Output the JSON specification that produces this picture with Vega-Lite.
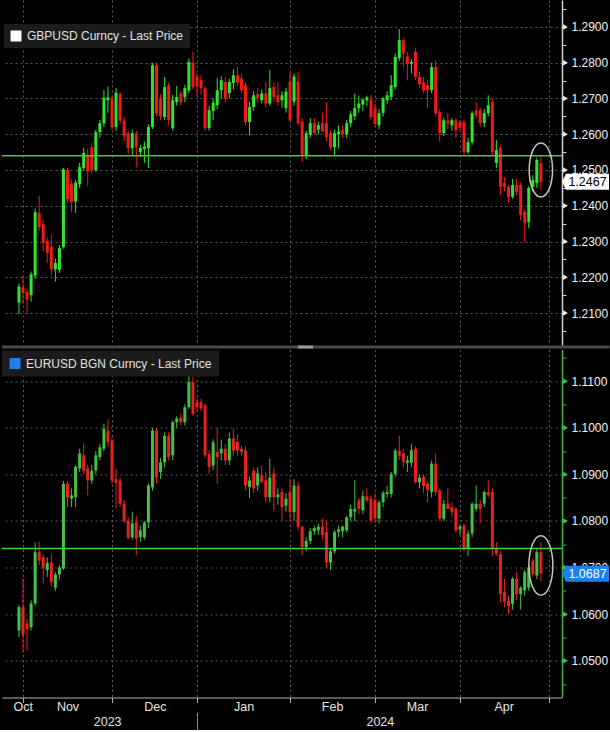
{
"$schema": "https://vega.github.io/schema/vega-lite/v6.json",
"background": "black",
"padding": 0,
"spacing": 0.5,
"datasets": {
"gbp": [
{"t":0,"o":1.2129,"h":1.2182,"l":1.2096,"c":1.2174},
{"t":1,"o":1.2172,"h":1.2205,"l":1.2126,"c":1.2156},
{"t":2,"o":1.2160,"h":1.2168,"l":1.2100,"c":1.2138},
{"t":3,"o":1.2150,"h":1.2216,"l":1.2132,"c":1.2208},
{"t":4,"o":1.2204,"h":1.2392,"l":1.2196,"c":1.2382},
{"t":5,"o":1.2380,"h":1.2428,"l":1.2330,"c":1.2340},
{"t":6,"o":1.2348,"h":1.2360,"l":1.2272,"c":1.2296},
{"t":7,"o":1.2302,"h":1.2312,"l":1.2240,"c":1.2268},
{"t":8,"o":1.2285,"h":1.2318,"l":1.2205,"c":1.2222},
{"t":9,"o":1.2222,"h":1.2252,"l":1.2188,"c":1.2240},
{"t":10,"o":1.2220,"h":1.2290,"l":1.2212,"c":1.2282},
{"t":11,"o":1.2284,"h":1.2506,"l":1.2280,"c":1.2502},
{"t":12,"o":1.2500,"h":1.2506,"l":1.2408,"c":1.2418},
{"t":13,"o":1.2462,"h":1.2474,"l":1.2382,"c":1.2410},
{"t":14,"o":1.2412,"h":1.2472,"l":1.2380,"c":1.2465},
{"t":15,"o":1.2460,"h":1.2520,"l":1.2450,"c":1.2508},
{"t":16,"o":1.2505,"h":1.2562,"l":1.2498,"c":1.2548},
{"t":17,"o":1.2542,"h":1.2560,"l":1.2455,"c":1.2496},
{"t":18,"o":1.2564,"h":1.2575,"l":1.2490,"c":1.2500},
{"t":19,"o":1.2500,"h":1.2612,"l":1.2495,"c":1.2606},
{"t":20,"o":1.2606,"h":1.2640,"l":1.2590,"c":1.2631},
{"t":21,"o":1.2630,"h":1.2724,"l":1.2620,"c":1.2702},
{"t":22,"o":1.2695,"h":1.2733,"l":1.2660,"c":1.2703},
{"t":23,"o":1.2700,"h":1.2708,"l":1.2612,"c":1.2620},
{"t":24,"o":1.2620,"h":1.2730,"l":1.2610,"c":1.2716},
{"t":25,"o":1.2712,"h":1.2718,"l":1.2628,"c":1.2638},
{"t":26,"o":1.2638,"h":1.2648,"l":1.2580,"c":1.2594},
{"t":27,"o":1.2603,"h":1.2610,"l":1.2545,"c":1.2561},
{"t":28,"o":1.2561,"h":1.2612,"l":1.2540,"c":1.2603},
{"t":29,"o":1.2603,"h":1.2610,"l":1.2508,"c":1.2563},
{"t":30,"o":1.2550,"h":1.2570,"l":1.2536,"c":1.2562},
{"t":31,"o":1.2558,"h":1.2580,"l":1.2520,"c":1.2566},
{"t":32,"o":1.2561,"h":1.2628,"l":1.2505,"c":1.2620},
{"t":33,"o":1.2620,"h":1.2800,"l":1.2615,"c":1.2793},
{"t":34,"o":1.2793,"h":1.2800,"l":1.2650,"c":1.2659},
{"t":35,"o":1.2700,"h":1.2712,"l":1.2640,"c":1.2650},
{"t":36,"o":1.2648,"h":1.2760,"l":1.2640,"c":1.2732},
{"t":37,"o":1.2737,"h":1.2745,"l":1.2625,"c":1.2640},
{"t":38,"o":1.2617,"h":1.2710,"l":1.2610,"c":1.2695},
{"t":39,"o":1.2690,"h":1.2735,"l":1.2680,"c":1.2704},
{"t":40,"o":1.2715,"h":1.2722,"l":1.2680,"c":1.2690},
{"t":41,"o":1.2704,"h":1.2738,"l":1.2690,"c":1.2729},
{"t":42,"o":1.2723,"h":1.2812,"l":1.2715,"c":1.2802},
{"t":43,"o":1.2800,"h":1.2830,"l":1.2725,"c":1.2732},
{"t":44,"o":1.2760,"h":1.2770,"l":1.2705,"c":1.2735},
{"t":45,"o":1.2752,"h":1.2765,"l":1.2710,"c":1.2729},
{"t":46,"o":1.2729,"h":1.2735,"l":1.2610,"c":1.2617},
{"t":47,"o":1.2617,"h":1.2680,"l":1.2610,"c":1.2667},
{"t":48,"o":1.2665,"h":1.2700,"l":1.2640,"c":1.2689},
{"t":49,"o":1.2681,"h":1.2758,"l":1.2670,"c":1.2723},
{"t":50,"o":1.2723,"h":1.2762,"l":1.2700,"c":1.2751},
{"t":51,"o":1.2746,"h":1.2760,"l":1.2690,"c":1.2700},
{"t":52,"o":1.2715,"h":1.2755,"l":1.2700,"c":1.2746},
{"t":53,"o":1.2743,"h":1.2782,"l":1.2725,"c":1.2765},
{"t":54,"o":1.2765,"h":1.2788,"l":1.2735,"c":1.2745},
{"t":55,"o":1.2756,"h":1.2770,"l":1.2715,"c":1.2723},
{"t":56,"o":1.2737,"h":1.2745,"l":1.2625,"c":1.2634},
{"t":57,"o":1.2634,"h":1.2690,"l":1.2597,"c":1.2676},
{"t":58,"o":1.2676,"h":1.2720,"l":1.2665,"c":1.2709},
{"t":59,"o":1.2712,"h":1.2730,"l":1.2690,"c":1.2702},
{"t":60,"o":1.2695,"h":1.2725,"l":1.2686,"c":1.2714},
{"t":61,"o":1.2714,"h":1.2746,"l":1.2675,"c":1.2686},
{"t":62,"o":1.2686,"h":1.2780,"l":1.2680,"c":1.2729},
{"t":63,"o":1.2732,"h":1.2745,"l":1.2690,"c":1.2704},
{"t":64,"o":1.2709,"h":1.2745,"l":1.2680,"c":1.2690},
{"t":65,"o":1.2695,"h":1.2720,"l":1.2675,"c":1.2709},
{"t":66,"o":1.2673,"h":1.2730,"l":1.2660,"c":1.2719},
{"t":67,"o":1.2747,"h":1.2775,"l":1.2635,"c":1.2639},
{"t":68,"o":1.2691,"h":1.2770,"l":1.2680,"c":1.2761},
{"t":69,"o":1.2747,"h":1.2775,"l":1.2625,"c":1.2631},
{"t":70,"o":1.2635,"h":1.2645,"l":1.2523,"c":1.2542},
{"t":71,"o":1.2542,"h":1.2610,"l":1.2530,"c":1.2603},
{"t":72,"o":1.2598,"h":1.2645,"l":1.2590,"c":1.2631},
{"t":73,"o":1.2631,"h":1.2645,"l":1.2600,"c":1.2603},
{"t":74,"o":1.2613,"h":1.2635,"l":1.2600,"c":1.2625},
{"t":75,"o":1.2631,"h":1.2660,"l":1.2605,"c":1.2609},
{"t":76,"o":1.2631,"h":1.2690,"l":1.2580,"c":1.2592},
{"t":77,"o":1.2603,"h":1.2610,"l":1.2555,"c":1.2564},
{"t":78,"o":1.2564,"h":1.2612,"l":1.2542,"c":1.2603},
{"t":79,"o":1.2600,"h":1.2625,"l":1.2560,"c":1.2608},
{"t":80,"o":1.2612,"h":1.2625,"l":1.2590,"c":1.2600},
{"t":81,"o":1.2600,"h":1.2640,"l":1.2590,"c":1.2631},
{"t":82,"o":1.2631,"h":1.2665,"l":1.2620,"c":1.2656},
{"t":83,"o":1.2650,"h":1.2714,"l":1.2640,"c":1.2673},
{"t":84,"o":1.2673,"h":1.2708,"l":1.2660,"c":1.2686},
{"t":85,"o":1.2683,"h":1.2700,"l":1.2665,"c":1.2697},
{"t":86,"o":1.2695,"h":1.2708,"l":1.2680,"c":1.2703},
{"t":87,"o":1.2697,"h":1.2710,"l":1.2640,"c":1.2648},
{"t":88,"o":1.2673,"h":1.2685,"l":1.2620,"c":1.2628},
{"t":89,"o":1.2625,"h":1.2670,"l":1.2615,"c":1.2659},
{"t":90,"o":1.2659,"h":1.2705,"l":1.2650,"c":1.2700},
{"t":91,"o":1.2695,"h":1.2720,"l":1.2685,"c":1.2709},
{"t":92,"o":1.2704,"h":1.2765,"l":1.2695,"c":1.2737},
{"t":93,"o":1.2732,"h":1.2825,"l":1.2725,"c":1.2816},
{"t":94,"o":1.2813,"h":1.2894,"l":1.2805,"c":1.2863},
{"t":95,"o":1.2863,"h":1.2870,"l":1.2787,"c":1.2826},
{"t":96,"o":1.2818,"h":1.2830,"l":1.2751,"c":1.2796},
{"t":97,"o":1.2796,"h":1.2810,"l":1.2770,"c":1.2802},
{"t":98,"o":1.2830,"h":1.2840,"l":1.2752,"c":1.2760},
{"t":99,"o":1.2760,"h":1.2775,"l":1.2730,"c":1.2740},
{"t":100,"o":1.2745,"h":1.2760,"l":1.2715,"c":1.2723},
{"t":101,"o":1.2737,"h":1.2750,"l":1.2673,"c":1.2723},
{"t":102,"o":1.2723,"h":1.2800,"l":1.2715,"c":1.2788},
{"t":103,"o":1.2788,"h":1.2807,"l":1.2650,"c":1.2659},
{"t":104,"o":1.2662,"h":1.2670,"l":1.2578,"c":1.2603},
{"t":105,"o":1.2603,"h":1.2645,"l":1.2595,"c":1.2639},
{"t":106,"o":1.2639,"h":1.2660,"l":1.2615,"c":1.2630},
{"t":107,"o":1.2625,"h":1.2645,"l":1.2610,"c":1.2639},
{"t":108,"o":1.2639,"h":1.2645,"l":1.2590,"c":1.2611},
{"t":109,"o":1.2634,"h":1.2640,"l":1.2610,"c":1.2618},
{"t":110,"o":1.2634,"h":1.2640,"l":1.2540,"c":1.2550},
{"t":111,"o":1.2550,"h":1.2590,"l":1.2545,"c":1.2578},
{"t":112,"o":1.2578,"h":1.2665,"l":1.2570,"c":1.2659},
{"t":113,"o":1.2667,"h":1.2690,"l":1.2645,"c":1.2653},
{"t":114,"o":1.2667,"h":1.2675,"l":1.2620,"c":1.2631},
{"t":115,"o":1.2631,"h":1.2670,"l":1.2620,"c":1.2659},
{"t":116,"o":1.2659,"h":1.2709,"l":1.2650,"c":1.2681},
{"t":117,"o":1.2690,"h":1.2700,"l":1.2540,"c":1.2550},
{"t":118,"o":1.2520,"h":1.2584,"l":1.2505,"c":1.2556},
{"t":119,"o":1.2561,"h":1.2570,"l":1.2430,"c":1.2453},
{"t":120,"o":1.2464,"h":1.2480,"l":1.2440,"c":1.2453},
{"t":121,"o":1.2453,"h":1.2458,"l":1.2408,"c":1.2425},
{"t":122,"o":1.2425,"h":1.2475,"l":1.2420,"c":1.2458},
{"t":123,"o":1.2458,"h":1.2475,"l":1.2430,"c":1.2439},
{"t":124,"o":1.2458,"h":1.2465,"l":1.2360,"c":1.2374},
{"t":125,"o":1.2383,"h":1.2390,"l":1.2299,"c":1.2352},
{"t":126,"o":1.2355,"h":1.2455,"l":1.2337,"c":1.2450},
{"t":127,"o":1.2453,"h":1.2485,"l":1.2440,"c":1.2472},
{"t":128,"o":1.2464,"h":1.2535,"l":1.2450,"c":1.2528},
{"t":129,"o":1.2519,"h":1.2542,"l":1.2445,"c":1.2467}
],
"eur": [
{"t":0,"o":1.0565,"h":1.0620,"l":1.0551,"c":1.0615},
{"t":1,"o":1.0615,"h":1.0677,"l":1.0518,"c":1.0556},
{"t":2,"o":1.0580,"h":1.0590,"l":1.0522,"c":1.0568},
{"t":3,"o":1.0572,"h":1.0630,"l":1.0565,"c":1.0623},
{"t":4,"o":1.0623,"h":1.0754,"l":1.0618,"c":1.0733},
{"t":5,"o":1.0733,"h":1.0756,"l":1.0705,"c":1.0715},
{"t":6,"o":1.0722,"h":1.0728,"l":1.0666,"c":1.0700},
{"t":7,"o":1.0695,"h":1.0722,"l":1.0680,"c":1.0710},
{"t":8,"o":1.0711,"h":1.0730,"l":1.0660,"c":1.0669},
{"t":9,"o":1.0657,"h":1.0690,"l":1.0650,"c":1.0685},
{"t":10,"o":1.0685,"h":1.0705,"l":1.0675,"c":1.0700},
{"t":11,"o":1.0698,"h":1.0886,"l":1.0695,"c":1.0880},
{"t":12,"o":1.0880,"h":1.0886,"l":1.0830,"c":1.0850},
{"t":13,"o":1.0848,"h":1.0870,"l":1.0830,"c":1.0855},
{"t":14,"o":1.0851,"h":1.0920,"l":1.0830,"c":1.0916},
{"t":15,"o":1.0913,"h":1.0955,"l":1.0905,"c":1.0945},
{"t":16,"o":1.0941,"h":1.0966,"l":1.0900,"c":1.0908},
{"t":17,"o":1.0913,"h":1.0920,"l":1.0855,"c":1.0887},
{"t":18,"o":1.0887,"h":1.0920,"l":1.0880,"c":1.0908},
{"t":19,"o":1.0908,"h":1.0950,"l":1.0900,"c":1.0941},
{"t":20,"o":1.0937,"h":1.0965,"l":1.0930,"c":1.0958},
{"t":21,"o":1.0955,"h":1.1009,"l":1.0950,"c":1.0998},
{"t":22,"o":1.0994,"h":1.1018,"l":1.0960,"c":1.0969},
{"t":23,"o":1.0973,"h":1.0980,"l":1.0880,"c":1.0887},
{"t":24,"o":1.0890,"h":1.0913,"l":1.0828,"c":1.0882},
{"t":25,"o":1.0887,"h":1.0893,"l":1.0830,"c":1.0837},
{"t":26,"o":1.0837,"h":1.0845,"l":1.0795,"c":1.0800},
{"t":27,"o":1.0800,"h":1.0808,"l":1.0760,"c":1.0764},
{"t":28,"o":1.0765,"h":1.0820,"l":1.0760,"c":1.0795},
{"t":29,"o":1.0797,"h":1.0810,"l":1.0726,"c":1.0762},
{"t":30,"o":1.0765,"h":1.0790,"l":1.0755,"c":1.0780},
{"t":31,"o":1.0765,"h":1.0800,"l":1.0760,"c":1.0797},
{"t":32,"o":1.0797,"h":1.0880,"l":1.0785,"c":1.0876},
{"t":33,"o":1.0872,"h":1.1000,"l":1.0865,"c":1.0994},
{"t":34,"o":1.0994,"h":1.1000,"l":1.0880,"c":1.0894},
{"t":35,"o":1.0905,"h":1.0935,"l":1.0890,"c":1.0926},
{"t":36,"o":1.0926,"h":1.0990,"l":1.0915,"c":1.0983},
{"t":37,"o":1.0983,"h":1.0990,"l":1.0930,"c":1.0937},
{"t":38,"o":1.0941,"h":1.1015,"l":1.0930,"c":1.1012},
{"t":39,"o":1.1012,"h":1.1025,"l":1.1000,"c":1.1020},
{"t":40,"o":1.1022,"h":1.1030,"l":1.1005,"c":1.1012},
{"t":41,"o":1.1012,"h":1.1050,"l":1.1005,"c":1.1044},
{"t":42,"o":1.1044,"h":1.1116,"l":1.1040,"c":1.1098},
{"t":43,"o":1.1098,"h":1.1110,"l":1.1025,"c":1.1030},
{"t":44,"o":1.1055,"h":1.1065,"l":1.1035,"c":1.1044},
{"t":45,"o":1.1055,"h":1.1062,"l":1.1035,"c":1.1041},
{"t":46,"o":1.1048,"h":1.1052,"l":1.0935,"c":1.0941},
{"t":47,"o":1.0944,"h":1.0952,"l":1.0900,"c":1.0916},
{"t":48,"o":1.0919,"h":1.0975,"l":1.0910,"c":1.0969},
{"t":49,"o":1.0948,"h":1.1000,"l":1.0880,"c":1.0937},
{"t":50,"o":1.0945,"h":1.0975,"l":1.0930,"c":1.0955},
{"t":51,"o":1.0955,"h":1.0965,"l":1.0920,"c":1.0930},
{"t":52,"o":1.0930,"h":1.0990,"l":1.0920,"c":1.0977},
{"t":53,"o":1.0977,"h":1.0998,"l":1.0940,"c":1.0951},
{"t":54,"o":1.0970,"h":1.0985,"l":1.0940,"c":1.0951},
{"t":55,"o":1.0955,"h":1.0962,"l":1.0940,"c":1.0948},
{"t":56,"o":1.0951,"h":1.0960,"l":1.0865,"c":1.0876},
{"t":57,"o":1.0873,"h":1.0895,"l":1.0849,"c":1.0887},
{"t":58,"o":1.0908,"h":1.0915,"l":1.0860,"c":1.0870},
{"t":59,"o":1.0876,"h":1.0915,"l":1.0865,"c":1.0902},
{"t":60,"o":1.0898,"h":1.0920,"l":1.0880,"c":1.0884},
{"t":61,"o":1.0887,"h":1.0905,"l":1.0840,"c":1.0851},
{"t":62,"o":1.0851,"h":1.0934,"l":1.0840,"c":1.0893},
{"t":63,"o":1.0902,"h":1.0915,"l":1.0820,"c":1.0851},
{"t":64,"o":1.0851,"h":1.0870,"l":1.0835,"c":1.0857},
{"t":65,"o":1.0862,"h":1.0870,"l":1.0800,"c":1.0830},
{"t":66,"o":1.0833,"h":1.0860,"l":1.0820,"c":1.0848},
{"t":67,"o":1.0862,"h":1.0890,"l":1.0800,"c":1.0819},
{"t":68,"o":1.0819,"h":1.0890,"l":1.0800,"c":1.0876},
{"t":69,"o":1.0876,"h":1.0885,"l":1.0780,"c":1.0787},
{"t":70,"o":1.0787,"h":1.0790,"l":1.0726,"c":1.0744},
{"t":71,"o":1.0744,"h":1.0765,"l":1.0735,"c":1.0757},
{"t":72,"o":1.0757,"h":1.0785,"l":1.0750,"c":1.0778},
{"t":73,"o":1.0778,"h":1.0790,"l":1.0770,"c":1.0785},
{"t":74,"o":1.0780,"h":1.0795,"l":1.0770,"c":1.0788},
{"t":75,"o":1.0788,"h":1.0805,"l":1.0760,"c":1.0770},
{"t":76,"o":1.0776,"h":1.0800,"l":1.0700,"c":1.0711},
{"t":77,"o":1.0711,"h":1.0740,"l":1.0695,"c":1.0735},
{"t":78,"o":1.0735,"h":1.0780,"l":1.0730,"c":1.0776},
{"t":79,"o":1.0776,"h":1.0790,"l":1.0765,"c":1.0782},
{"t":80,"o":1.0778,"h":1.0790,"l":1.0765,"c":1.0788},
{"t":81,"o":1.0780,"h":1.0810,"l":1.0775,"c":1.0808},
{"t":82,"o":1.0808,"h":1.0835,"l":1.0800,"c":1.0826},
{"t":83,"o":1.0820,"h":1.0888,"l":1.0800,"c":1.0826},
{"t":84,"o":1.0844,"h":1.0850,"l":1.0815,"c":1.0826},
{"t":85,"o":1.0823,"h":1.0865,"l":1.0815,"c":1.0853},
{"t":86,"o":1.0853,"h":1.0870,"l":1.0840,"c":1.0844},
{"t":87,"o":1.0848,"h":1.0855,"l":1.0795,"c":1.0801},
{"t":88,"o":1.0845,"h":1.0860,"l":1.0795,"c":1.0805},
{"t":89,"o":1.0805,"h":1.0845,"l":1.0795,"c":1.0840},
{"t":90,"o":1.0840,"h":1.0865,"l":1.0830,"c":1.0860},
{"t":91,"o":1.0858,"h":1.0875,"l":1.0850,"c":1.0862},
{"t":92,"o":1.0858,"h":1.0905,"l":1.0850,"c":1.0901},
{"t":93,"o":1.0901,"h":1.0955,"l":1.0895,"c":1.0951},
{"t":94,"o":1.0951,"h":1.0983,"l":1.0930,"c":1.0940},
{"t":95,"o":1.0945,"h":1.0955,"l":1.0915,"c":1.0927},
{"t":96,"o":1.0925,"h":1.0940,"l":1.0905,"c":1.0930},
{"t":97,"o":1.0925,"h":1.0965,"l":1.0915,"c":1.0952},
{"t":98,"o":1.0955,"h":1.0960,"l":1.0880,"c":1.0883},
{"t":99,"o":1.0883,"h":1.0900,"l":1.0870,"c":1.0893},
{"t":100,"o":1.0895,"h":1.0900,"l":1.0860,"c":1.0875},
{"t":101,"o":1.0880,"h":1.0885,"l":1.0840,"c":1.0866},
{"t":102,"o":1.0862,"h":1.0930,"l":1.0850,"c":1.0923},
{"t":103,"o":1.0923,"h":1.0944,"l":1.0855,"c":1.0862},
{"t":104,"o":1.0866,"h":1.0870,"l":1.0800,"c":1.0805},
{"t":105,"o":1.0805,"h":1.0845,"l":1.0800,"c":1.0837},
{"t":106,"o":1.0837,"h":1.0870,"l":1.0825,"c":1.0826},
{"t":107,"o":1.0830,"h":1.0840,"l":1.0810,"c":1.0819},
{"t":108,"o":1.0826,"h":1.0830,"l":1.0775,"c":1.0780},
{"t":109,"o":1.0782,"h":1.0792,"l":1.0770,"c":1.0788},
{"t":110,"o":1.0790,"h":1.0795,"l":1.0735,"c":1.0740},
{"t":111,"o":1.0740,"h":1.0780,"l":1.0725,"c":1.0773},
{"t":112,"o":1.0773,"h":1.0840,"l":1.0765,"c":1.0837},
{"t":113,"o":1.0826,"h":1.0876,"l":1.0820,"c":1.0837},
{"t":114,"o":1.0837,"h":1.0845,"l":1.0795,"c":1.0826},
{"t":115,"o":1.0837,"h":1.0865,"l":1.0830,"c":1.0862},
{"t":116,"o":1.0862,"h":1.0887,"l":1.0850,"c":1.0855},
{"t":117,"o":1.0862,"h":1.0870,"l":1.0725,"c":1.0740},
{"t":118,"o":1.0740,"h":1.0755,"l":1.0725,"c":1.0730},
{"t":119,"o":1.0729,"h":1.0735,"l":1.0625,"c":1.0643},
{"t":120,"o":1.0647,"h":1.0675,"l":1.0615,"c":1.0627},
{"t":121,"o":1.0629,"h":1.0640,"l":1.0600,"c":1.0618},
{"t":122,"o":1.0622,"h":1.0680,"l":1.0610,"c":1.0676},
{"t":123,"o":1.0676,"h":1.0690,"l":1.0630,"c":1.0643},
{"t":124,"o":1.0643,"h":1.0660,"l":1.0610,"c":1.0657},
{"t":125,"o":1.0651,"h":1.0695,"l":1.0640,"c":1.0690},
{"t":126,"o":1.0657,"h":1.0705,"l":1.0650,"c":1.0700},
{"t":127,"o":1.0715,"h":1.0720,"l":1.0680,"c":1.0686},
{"t":128,"o":1.0683,"h":1.0740,"l":1.0675,"c":1.0733},
{"t":129,"o":1.0733,"h":1.0754,"l":1.0670,"c":1.0687}
]
},
"vconcat": [
{
"width": 560,
"height": 345,
"resolve": {"axis": {"x": "independent", "y": "independent"}},
"layer": [
{
"data": {"name": "gbp"},
"mark": {"type": "rule", "strokeWidth": 1},
"encoding": {
"x": {"field": "t", "type": "quantitative", "scale": {"domain": [-4.19, 134.22], "nice": false, "zero": false, "padding": 0},
"axis": {"orient": "bottom", "values": [1, 23, 44, 67, 88, 109, 131], "grid": true, "gridColor": "#5c5c5c", "gridDash": [2, 3], "labels": false, "ticks": false, "domain": false, "title": null}},
"y": {"field": "l", "type": "quantitative", "scale": {"domain": [1.20106, 1.29754], "nice": false, "zero": false, "padding": 0},
"axis": {"orient": "right", "title": null,
"values": [1.205, 1.21, 1.215, 1.22, 1.225, 1.23, 1.235, 1.24, 1.245, 1.25, 1.255, 1.26, 1.265, 1.27, 1.275, 1.28, 1.285, 1.29, 1.295],
"labelExpr": "round(datum.value*200) % 2 == 0 ? format(datum.value, '.4f') : ''",
"grid": true, "gridColor": "#5c5c5c", "gridDash": [2, 3],
"gridOpacity": {"condition": {"test": "round(datum.value*200) % 2 == 0", "value": 1}, "value": 0},
"domainColor": "#d0d0d0", "domainWidth": 1.5, "tickColor": "#d0d0d0", "tickSize": 4, "tickWidth": 1,
"labelColor": "#f2f2f2", "labelFontSize": 12, "labelPadding": 5, "labelOverlap": false, "labelBaseline": "middle"}},
"y2": {"field": "h"},
"color": {"condition": {"test": "datum.c >= datum.o", "value": "#2ee62e"}, "value": "#f01818"}
}
},
{
"data": {"name": "gbp"},
"mark": {"type": "bar", "size": 3, "opacity": 1},
"encoding": {
"x": {"field": "t", "type": "quantitative", "scale": {"domain": [-4.19, 134.22], "nice": false, "zero": false, "padding": 0}, "axis": null},
"y": {"field": "o", "type": "quantitative", "scale": {"domain": [1.20106, 1.29754], "nice": false, "zero": false, "padding": 0}, "axis": null},
"y2": {"field": "c"},
"color": {"condition": {"test": "datum.c >= datum.o", "value": "#2ee62e"}, "value": "#f01818"}
}
},
{
"data": {"values": [{"level": 1.2540}]},
"mark": {"type": "rule", "color": "#3bd03b", "strokeWidth": 1.5},
"encoding": {
"y": {"field": "level", "type": "quantitative", "scale": {"domain": [1.20106, 1.29754], "nice": false, "zero": false, "padding": 0}, "axis": null}
}
},
{
"data": {"values": [{"v": 1.2005}]},
"mark": {"type": "rule", "color": "#4a4a4a", "strokeWidth": 3, "clip": false},
"encoding": {
"x": {"datum": -4.19, "type": "quantitative", "scale": {"domain": [-4.19, 134.22], "nice": false, "zero": false, "padding": 0}, "axis": null},
"x2": {"datum": 146},
"y": {"field": "v", "type": "quantitative", "scale": {"domain": [1.20106, 1.29754], "nice": false, "zero": false, "padding": 0}, "axis": null}
}
},
{
"data": {"values": [{"v": 1.2005}]},
"mark": {"type": "rule", "color": "#9a9a9a", "strokeWidth": 3, "clip": false},
"encoding": {
"x": {"datum": 69, "type": "quantitative", "scale": {"domain": [-4.19, 134.22], "nice": false, "zero": false, "padding": 0}, "axis": null},
"x2": {"datum": 72.7},
"y": {"field": "v", "type": "quantitative", "scale": {"domain": [1.20106, 1.29754], "nice": false, "zero": false, "padding": 0}, "axis": null}
}
},
{
"data": {"values": [{"v": 1.21}, {"v": 1.22}, {"v": 1.23}, {"v": 1.24}, {"v": 1.25}, {"v": 1.26}, {"v": 1.27}, {"v": 1.28}, {"v": 1.29}]},
"mark": {"type": "point", "shape": "triangle-right", "size": 30, "filled": true, "color": "#f0f0f0", "opacity": 1, "xOffset": 3.5},
"encoding": {
"x": {"datum": 134.22, "type": "quantitative", "scale": {"domain": [-4.19, 134.22], "nice": false, "zero": false, "padding": 0}, "axis": null},
"y": {"field": "v", "type": "quantitative", "scale": {"domain": [1.20106, 1.29754], "nice": false, "zero": false, "padding": 0}, "axis": null}
}
},
{
"data": {"values": [{"t": 129, "v": 1.2500}]},
"mark": {"type": "point", "shape": "M -0.433 0 A 0.433 1 0 1 1 0.433 0 A 0.433 1 0 1 1 -0.433 0 Z", "size": 2916, "filled": false, "stroke": "#c9c4ad", "strokeWidth": 1.5, "opacity": 1},
"encoding": {
"x": {"field": "t", "type": "quantitative", "scale": {"domain": [-4.19, 134.22], "nice": false, "zero": false, "padding": 0}, "axis": null},
"y": {"field": "v", "type": "quantitative", "scale": {"domain": [1.20106, 1.29754], "nice": false, "zero": false, "padding": 0}, "axis": null}
}
},
{
"data": {"values": [{"v": 1.2467, "label": "1.2467", "series": "GBPUSD Curncy - Last Price"}]},
"mark": {"type": "square", "size": 60, "opacity": 1, "xOffset": 20},
"encoding": {
"x": {"datum": 134.22, "type": "quantitative", "scale": {"domain": [-4.19, 134.22], "nice": false, "zero": false, "padding": 0}, "axis": null},
"y": {"field": "v", "type": "quantitative", "scale": {"domain": [1.20106, 1.29754], "nice": false, "zero": false, "padding": 0}, "axis": null},
"fill": {"field": "series", "type": "nominal", "scale": {"domain": ["GBPUSD Curncy - Last Price"], "range": ["#ffffff"]},
"legend": {"orient": "none", "legendX": 2, "legendY": 24, "title": null, "symbolType": "square", "symbolSize": 121, "symbolStrokeWidth": 0, "symbolOpacity": 1,
"labelFontSize": 12, "labelColor": "#e0e0e0", "labelLimit": 300, "labelOffset": 5, "fillColor": "#1b1b1b", "padding": 6}}
}
},
{
"data": {"values": [{"v": 1.2467, "label": "1.2467"}]},
"mark": {"type": "point", "shape": "M 0 0 L 0.08 -0.16 L 0.94 -0.16 L 0.94 0.16 L 0.08 0.16 Z", "size": 10000, "filled": true, "fill": "#ffffff", "strokeWidth": 0, "opacity": 1},
"encoding": {
"x": {"datum": 134.22, "type": "quantitative", "scale": {"domain": [-4.19, 134.22], "nice": false, "zero": false, "padding": 0}, "axis": null},
"y": {"field": "v", "type": "quantitative", "scale": {"domain": [1.20106, 1.29754], "nice": false, "zero": false, "padding": 0}, "axis": null}
}
},
{
"data": {"values": [{"v": 1.2467, "label": "1.2467"}]},
"mark": {"type": "text", "dx": 25.5, "align": "center", "baseline": "middle", "fontSize": 12.5, "color": "#000000"},
"encoding": {
"x": {"datum": 134.22, "type": "quantitative", "scale": {"domain": [-4.19, 134.22], "nice": false, "zero": false, "padding": 0}, "axis": null},
"y": {"field": "v", "type": "quantitative", "scale": {"domain": [1.20106, 1.29754], "nice": false, "zero": false, "padding": 0}, "axis": null},
"text": {"field": "label"}
}
}
]
},
{
"width": 560,
"height": 348,
"resolve": {"axis": {"x": "independent", "y": "independent"}},
"layer": [
{
"data": {"name": "eur"},
"mark": {"type": "rule", "strokeWidth": 1},
"encoding": {
"x": {"field": "t", "type": "quantitative", "scale": {"domain": [-4.19, 134.22], "nice": false, "zero": false, "padding": 0},
"axis": {"orient": "bottom", "values": [1, 23, 44, 67, 88, 109, 131], "grid": true, "gridColor": "#5c5c5c", "gridDash": [2, 3], "labels": false, "ticks": true, "tickSize": 5, "tickColor": "#b0b0b0", "domain": true, "domainColor": "#b0b0b0", "title": null}},
"y": {"field": "l", "type": "quantitative", "scale": {"domain": [1.04212, 1.1168], "nice": false, "zero": false, "padding": 0},
"axis": {"orient": "right", "title": null,
"values": [1.045, 1.05, 1.055, 1.06, 1.065, 1.07, 1.075, 1.08, 1.085, 1.09, 1.095, 1.1, 1.105, 1.11, 1.115],
"labelExpr": "round(datum.value*200) % 2 == 0 ? format(datum.value, '.4f') : ''",
"grid": true, "gridColor": "#5c5c5c", "gridDash": [2, 3],
"gridOpacity": {"condition": {"test": "round(datum.value*200) % 2 == 0", "value": 1}, "value": 0},
"domainColor": "#3cb43c", "domainWidth": 1.5, "tickColor": "#3cb43c", "tickSize": 4, "tickWidth": 1,
"labelColor": "#f2f2f2", "labelFontSize": 12, "labelPadding": 5, "labelOverlap": false, "labelBaseline": "middle"}},
"y2": {"field": "h"},
"color": {"condition": {"test": "datum.c >= datum.o", "value": "#44c044"}, "value": "#e82020"}
}
},
{
"data": {"name": "eur"},
"mark": {"type": "bar", "size": 3, "opacity": 1},
"encoding": {
"x": {"field": "t", "type": "quantitative", "scale": {"domain": [-4.19, 134.22], "nice": false, "zero": false, "padding": 0},
"axis": {"orient": "bottom", "values": [0.95, 12, 33.6, 55.5, 77.4, 98.4, 119.8],
"labelExpr": "datum.value < 5 ? 'Oct' : datum.value < 20 ? 'Nov' : datum.value < 40 ? 'Dec' : datum.value < 60 ? 'Jan' : datum.value < 85 ? 'Feb' : datum.value < 105 ? 'Mar' : 'Apr'",
"grid": false, "ticks": false, "tickSize": 0, "domain": false, "labelPadding": 3, "labelColor": "#e6e6e6", "labelFontSize": 12.5, "labelFlush": false, "labelOverlap": false, "labelBound": false, "title": null}},
"y": {"field": "o", "type": "quantitative", "scale": {"domain": [1.04212, 1.1168], "nice": false, "zero": false, "padding": 0}, "axis": null},
"y2": {"field": "c"},
"color": {"condition": {"test": "datum.c >= datum.o", "value": "#44c044"}, "value": "#e82020"}
}
},
{
"data": {"values": [{"level": 1.0741}]},
"mark": {"type": "rule", "color": "#3bd03b", "strokeWidth": 1.5},
"encoding": {
"y": {"field": "level", "type": "quantitative", "scale": {"domain": [1.04212, 1.1168], "nice": false, "zero": false, "padding": 0}, "axis": null}
}
},
{
"data": {"values": [{"v": 1.05}, {"v": 1.06}, {"v": 1.07}, {"v": 1.08}, {"v": 1.09}, {"v": 1.1}, {"v": 1.11}]},
"mark": {"type": "point", "shape": "triangle-right", "size": 30, "filled": true, "color": "#3cc83c", "opacity": 1, "xOffset": 3.5},
"encoding": {
"x": {"datum": 134.22, "type": "quantitative", "scale": {"domain": [-4.19, 134.22], "nice": false, "zero": false, "padding": 0},
"axis": {"orient": "bottom", "values": [21.8, 89.2], "labelExpr": "datum.value < 50 ? '2023' : '2024'",
"grid": false, "ticks": false, "tickSize": 0, "domain": false, "labelPadding": 18, "labelColor": "#e6e6e6", "labelFontSize": 12.5, "labelFlush": false, "labelOverlap": false, "labelBound": false, "title": null}},
"y": {"field": "v", "type": "quantitative", "scale": {"domain": [1.04212, 1.1168], "nice": false, "zero": false, "padding": 0}, "axis": null}
}
},
{
"data": {"values": [{"t": 129, "v": 1.07045}]},
"mark": {"type": "point", "shape": "M -0.404 0 A 0.404 1 0 1 1 0.404 0 A 0.404 1 0 1 1 -0.404 0 Z", "size": 3528, "filled": false, "stroke": "#c9c4ad", "strokeWidth": 1.5, "opacity": 1},
"encoding": {
"x": {"field": "t", "type": "quantitative", "scale": {"domain": [-4.19, 134.22], "nice": false, "zero": false, "padding": 0},
"axis": {"orient": "bottom", "values": [44], "labels": false, "grid": false, "domain": false, "ticks": true, "tickSize": 17, "tickColor": "#8a8a8a", "offset": 15, "title": null}},
"y": {"field": "v", "type": "quantitative", "scale": {"domain": [1.04212, 1.1168], "nice": false, "zero": false, "padding": 0}, "axis": null}
}
},
{
"data": {"values": [{"v": 1.0687, "label": "1.0687", "series": "EURUSD BGN Curncy - Last Price"}]},
"mark": {"type": "square", "size": 60, "opacity": 1, "xOffset": 20},
"encoding": {
"x": {"datum": 134.22, "type": "quantitative", "scale": {"domain": [-4.19, 134.22], "nice": false, "zero": false, "padding": 0}, "axis": null},
"y": {"field": "v", "type": "quantitative", "scale": {"domain": [1.04212, 1.1168], "nice": false, "zero": false, "padding": 0}, "axis": null},
"fill": {"field": "series", "type": "nominal", "scale": {"domain": ["EURUSD BGN Curncy - Last Price"], "range": ["#1e7ff0"]},
"legend": {"orient": "none", "legendX": 0, "legendY": 1, "title": null, "symbolType": "square", "symbolSize": 121, "symbolStrokeWidth": 0, "symbolOpacity": 1,
"labelFontSize": 12, "labelColor": "#e0e0e0", "labelLimit": 300, "labelOffset": 5, "fillColor": "#1b1b1b", "padding": 7}}
}
},
{
"data": {"values": [{"v": 1.0687, "label": "1.0687"}]},
"mark": {"type": "point", "shape": "M 0 0 L 0.08 -0.16 L 0.94 -0.16 L 0.94 0.16 L 0.08 0.16 Z", "size": 10000, "filled": true, "fill": "#1e7ff0", "strokeWidth": 0, "opacity": 1},
"encoding": {
"x": {"datum": 134.22, "type": "quantitative", "scale": {"domain": [-4.19, 134.22], "nice": false, "zero": false, "padding": 0}, "axis": null},
"y": {"field": "v", "type": "quantitative", "scale": {"domain": [1.04212, 1.1168], "nice": false, "zero": false, "padding": 0}, "axis": null}
}
},
{
"data": {"values": [{"v": 1.0687, "label": "1.0687"}]},
"mark": {"type": "text", "dx": 25.5, "align": "center", "baseline": "middle", "fontSize": 12.5, "color": "#ffffff"},
"encoding": {
"x": {"datum": 134.22, "type": "quantitative", "scale": {"domain": [-4.19, 134.22], "nice": false, "zero": false, "padding": 0}, "axis": null},
"y": {"field": "v", "type": "quantitative", "scale": {"domain": [1.04212, 1.1168], "nice": false, "zero": false, "padding": 0}, "axis": null},
"text": {"field": "label"}
}
}
]
}
],
"resolve": {"scale": {"fill": "independent"}, "legend": {"fill": "independent"}},
"config": {
"font": "Liberation Sans",
"view": {"stroke": null},
"axis": {"labelFont": "Liberation Sans"},
"legend": {"labelFont": "Liberation Sans"}
}
}
